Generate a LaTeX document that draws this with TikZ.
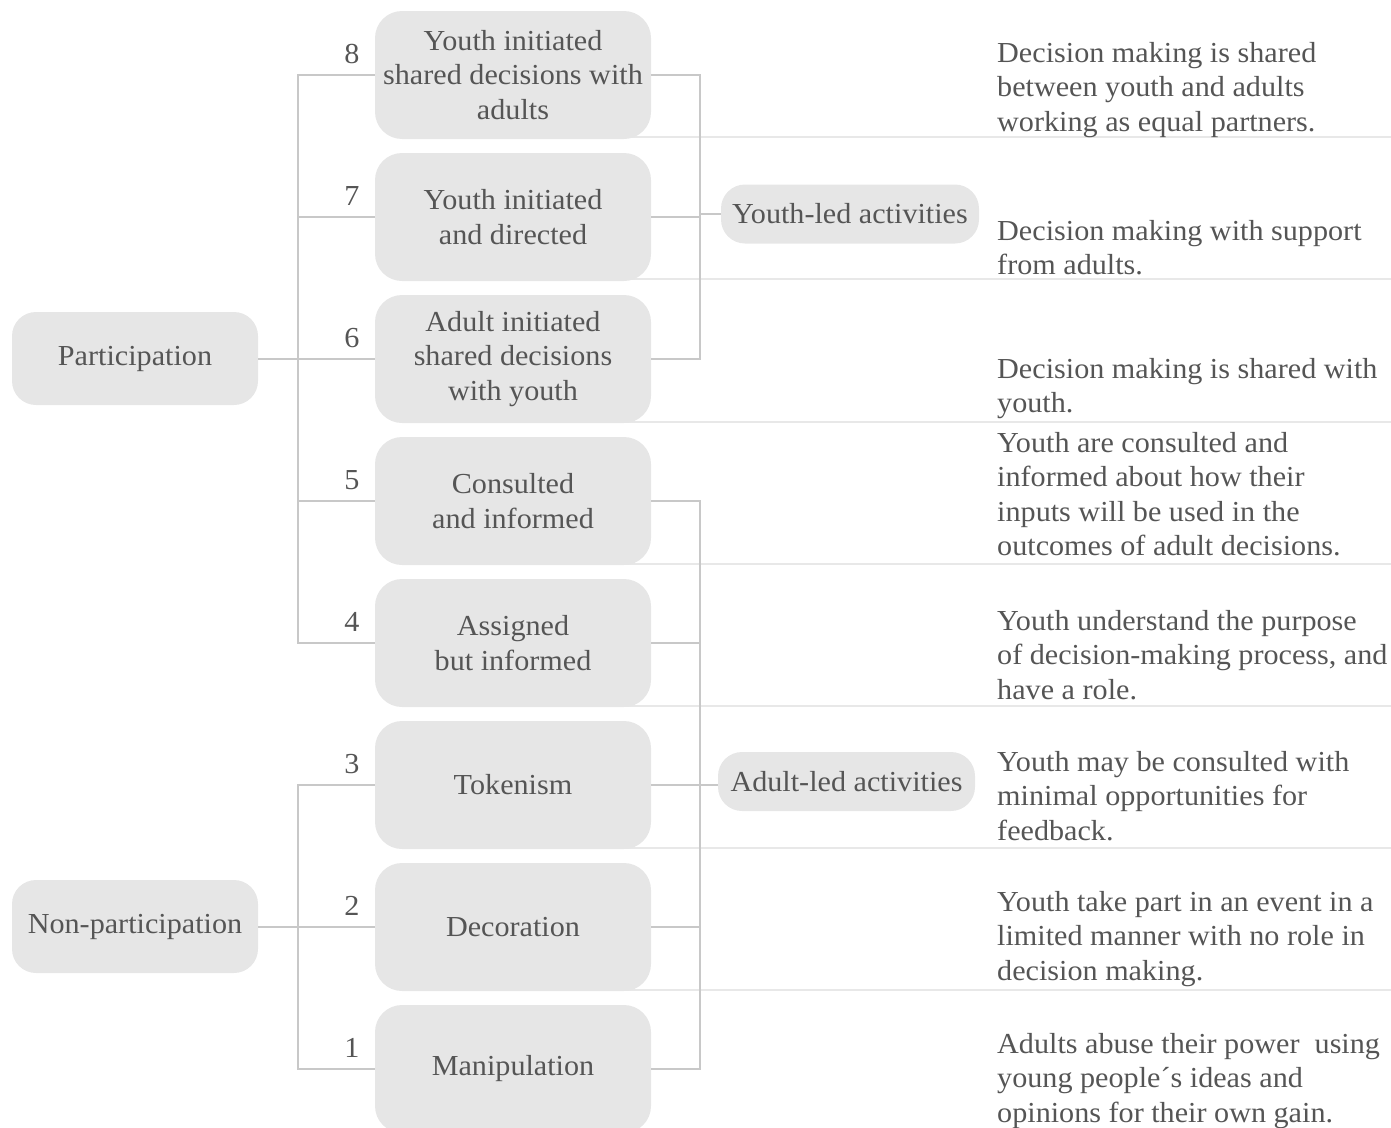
\documentclass[tikz,border=0pt]{standalone}
\usepackage{fontspec}
\setmainfont[FakeStretch=1.04]{Liberation Serif}
\definecolor{txt}{HTML}{555555}
\definecolor{boxfill}{HTML}{E6E6E6}
\definecolor{conn}{HTML}{C8C8C8}
\definecolor{sep}{HTML}{E8E8E8}
\newcommand{\fstrut}{\rule{0pt}{20pt}}
\tikzset{
  stepbox/.style={fill=boxfill, rounded corners=27pt, minimum width=276pt, minimum height=128pt, inner sep=0pt, align=center, text=txt},
  groupbox/.style={fill=boxfill, rounded corners=24pt, minimum width=246pt, minimum height=93pt, inner sep=0pt, align=center, text=txt},
  ledbox/.style={fill=boxfill, rounded corners=24pt, minimum height=59pt, inner sep=0pt, align=center, text=txt},
  numlabel/.style={text=txt, inner sep=0pt},
  desc/.style={anchor=north west, align=left, inner sep=0pt, text=txt},
  conline/.style={draw=conn, line width=2pt},
  sepline/.style={draw=sep, line width=2.5pt}
}
\begin{document}
\begin{tikzpicture}[x=1pt,y=-1pt,font=\fontsize{29}{34.5}\selectfont]
\useasboundingbox (0,0) rectangle (1391,1127);
\clip (0,0) rectangle (1391,1127);
% separator lines
\foreach \yy in {137,279,422,564,706,848,990}
  \draw[sepline] (600,\yy) -- (1391,\yy);
% step boxes
\node[stepbox] (b8) at (513,75)  {Youth initiated\\shared decisions with\\adults};
\node[stepbox] (b7) at (513,217) {Youth initiated\\and directed};
\node[stepbox] (b6) at (513,359) {Adult initiated\\shared decisions\\with youth};
\node[stepbox] (b5) at (513,501) {Consulted\\and informed};
\node[stepbox] (b4) at (513,643) {Assigned\\but informed};
\node[stepbox] (b3) at (513,785) {Tokenism};
\node[stepbox] (b2) at (513,927) {Decoration};
\node[stepbox] (b1) at (513,1069) {Manipulation};
% numbers
\node[numlabel] (n8) at (352,54)   {8};
\node[numlabel] (n7) at (352,196)  {7};
\node[numlabel] (n6) at (352,338)  {6};
\node[numlabel] (n5) at (352,480)  {5};
\node[numlabel] (n4) at (352,622)  {4};
\node[numlabel] (n3) at (352,764)  {3};
\node[numlabel] (n2) at (352,906)  {2};
\node[numlabel] (n1) at (352,1048) {1};
% group boxes
\node[groupbox] (part) at (135,358.5) {Participation};
\node[groupbox] (np) at (135,926.5) {Non-participation};
\node[ledbox, minimum width=258pt] (yl) at (850,214) {Youth-led activities};
\node[ledbox, minimum width=257pt] (al) at (846.5,781.5) {Adult-led activities};
% junctions
\coordinate (pj) at (298,358.5);
\coordinate (nj) at (298,926.5);
\coordinate (yj) at (700,214);
\coordinate (aj) at (700,785);
% left brackets
\draw[conline] (part.east) -- (pj);
\draw[conline] (b8.west) -| (pj) |- (b4.west);
\draw[conline] (b7.west) -- (b7.west -| pj);
\draw[conline] (b6.west) -- (b6.west -| pj);
\draw[conline] (b5.west) -- (b5.west -| pj);
\draw[conline] (np.east) -- (nj);
\draw[conline] (b3.west) -| (nj) |- (b1.west);
\draw[conline] (b2.west) -- (b2.west -| nj);
% right brackets
\draw[conline] (b8.east) -| (yj) |- (b6.east);
\draw[conline] (b7.east) -- (b7.east -| yj);
\draw[conline] (yj) -- (yj -| yl.west);
\draw[conline] (b5.east) -| (aj) |- (b1.east);
\draw[conline] (b4.east) -- (b4.east -| aj);
\draw[conline] (b3.east) -- (b3.east -| aj);
\draw[conline] (b2.east) -- (b2.east -| aj);
\draw[conline] (aj) -- (aj -| al.west);
% descriptions
\node[desc] (d8) at (997,42)  {\fstrut Decision making is shared\\between youth and adults\\working as equal partners.};
\node[desc] (d7) at (997,220) {\fstrut Decision making with support\\from adults.};
\node[desc] (d6) at (997,358) {\fstrut Decision making is shared with\\youth.};
\node[desc] (d5) at (997,432) {\fstrut Youth are consulted and\\informed about how their\\inputs will be used in the\\outcomes of adult decisions.};
\node[desc] (d4) at (997,610) {\fstrut Youth understand the purpose\\of decision-making process, and\\have a role.};
\node[desc] (d3) at (997,751) {\fstrut Youth may be consulted with\\minimal opportunities for\\feedback.};
\node[desc] (d2) at (997,891) {\fstrut Youth take part in an event in a\\limited manner with no role in\\decision making.};
\node[desc] (d1) at (997,1033) {\fstrut Adults abuse their power\ \ using\\young people´s ideas and\\opinions for their own gain.};
\end{tikzpicture}
\end{document}
